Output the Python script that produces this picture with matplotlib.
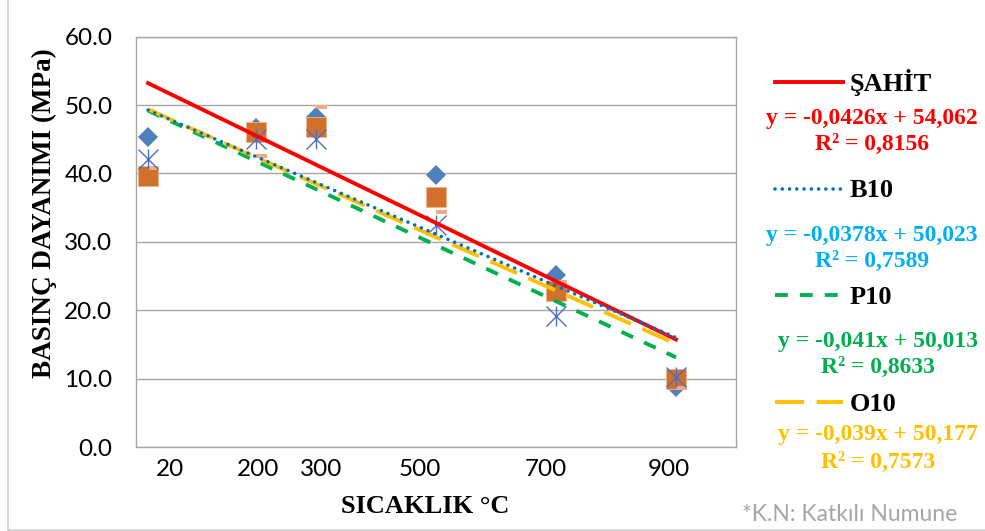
import matplotlib
matplotlib.use("Agg")
import matplotlib.pyplot as plt
import numpy as np
from matplotlib.lines import Line2D

temps = [20, 200, 300, 500, 700, 900]
sahit = [45.3, 46.6, 48.3, 39.8, 25.1, 8.8]
b10 = [39.7, 46.0, 46.8, 36.6, 22.8, 10.0]
p10 = [42.1, 45.0, 45.0, 32.5, 19.1, 10.2]
o10 = [40.8, 42.6, 49.7, 34.3, 24.2, 8.6]

# linear trend lines (as printed on the chart)
series_names = ["ŞAHİT", "B10", "P10", "O10"]
slopes = [-0.0426, -0.0378, -0.041, -0.039]
intercepts = [54.062, 50.023, 50.013, 50.177]
r_squared = [0.8156, 0.7589, 0.8633, 0.7573]

xtick_labels = ["20", "200", "300", "500", "700", "900"]
yticks = [0, 10, 20, 30, 40, 50, 60]

W, H = 985, 531
SERIF = "Liberation Serif"
SANS = "Lato"


def fpos(x, y):
    # pixel position -> figure fraction
    return x / W, 1 - y / H


fig = plt.figure(figsize=(W / 100, H / 100), dpi=100)
ax = fig.add_axes([136 / W, 1 - 447 / H, 600 / W, 410.3 / H])

# markers
ax.plot(temps, sahit, ls="none", marker="D", ms=10.5, color="#4F81BD",
        mew=0, zorder=3)
ax.plot(temps, b10, ls="none", marker="s", ms=14.5, color="#D2712C",
        mec="#F2B48A", mew=0.6, zorder=4)
dash_marker = np.array([(0, -0.22), (1, -0.22), (1, 0.22), (0, 0.22), (0, -0.22)])
ax.plot(temps, o10, ls="none", marker=dash_marker, ms=15.4, color="#F4A88A",
        mew=0, zorder=5)
ax.plot(temps, p10, ls="none", marker="x", ms=14, color="#4A6EC0",
        mew=1.0, zorder=6)
ax.plot(temps, p10, ls="none", marker="|", ms=14, color="#4A6EC0",
        mew=1.0, zorder=6)

# trend lines
trend_styles = [
    dict(color="#FF0000", lw=2.8, ls="-", zorder=9),
    dict(color="#0070C0", lw=2.6, ls=(0, (0.01, 2.0)), dash_capstyle="round", zorder=10),
    dict(color="#00B050", lw=2.8, ls=(0, (3.3, 3.1)), zorder=7),
    dict(color="#FFC000", lw=2.8, ls=(0, (7.5, 3.2)), zorder=8),
]
x_fit = np.array([min(temps), max(temps)])
for s, b, st in zip(slopes, intercepts, trend_styles):
    ax.plot(x_fit, s * x_fit + b, **st)

ax.set_xlim(0, 1000)
ax.set_ylim(0, 60)
ax.set_yticks(yticks)
ax.set_yticklabels([f"{v:.1f}" for v in yticks], fontfamily=SANS, fontsize=17.5)
# the category labels sit where the original text boxes were
ax.set_xticks([56, 204, 309, 473, 683, 888])
ax.set_xticklabels(xtick_labels, fontfamily=SANS, fontsize=17.5)
ax.tick_params(axis="both", length=0)
ax.tick_params(axis="y", pad=17)
ax.tick_params(axis="x", pad=9)
ax.grid(axis="y", color="#A6A6A6", lw=1.0)
ax.set_axisbelow(True)
for sp in ax.spines.values():
    sp.set_color("#A6A6A6")
    sp.set_linewidth(1.0)

ax.set_ylabel("BASINÇ DAYANIMI (MPa)", fontfamily=SERIF, fontweight="bold",
              fontsize=19.5, va="center")
ax.yaxis.set_label_coords(-0.153, 0.570)
ax.set_xlabel("SICAKLIK °C", fontfamily=SERIF, fontweight="bold",
              fontsize=19, va="center")
ax.xaxis.set_label_coords(0.482, -0.146)

# custom legend with the trend equations
eq_colors = ["#FF0000", "#00B0F0", "#00B050", "#FFC000"]
line_y = [82, 189, 295, 402]
name_base = [91, 197, 304, 411]
eq_base = [124, 241, 347, 440]
r2_base = [150, 267, 373, 468]
eq_x = [872, 872, 878, 878]
for i in range(4):
    st = dict(trend_styles[i])
    st.pop("zorder")
    x0, y0 = fpos(775, line_y[i])
    x1, _ = fpos(843, line_y[i])
    fig.add_artist(Line2D([x0, x1], [y0, y0], **st))
    fig.text(*fpos(850, name_base[i]), series_names[i], fontfamily=SERIF,
             fontweight="bold", fontsize=19, ha="left", va="baseline")
    eq = f"y = {slopes[i]}x + {intercepts[i]}".replace(".", ",")
    fig.text(*fpos(eq_x[i], eq_base[i]), eq, fontfamily=SERIF, fontweight="bold",
             fontsize=17, color=eq_colors[i], ha="center", va="baseline")
    r2 = f"R² = {r_squared[i]}".replace(".", ",")
    fig.text(*fpos(eq_x[i], r2_base[i]), r2, fontfamily=SERIF, fontweight="bold",
             fontsize=17, color=eq_colors[i], ha="center", va="baseline")

fig.text(*fpos(742, 521), "*K.N: Katkılı Numune", fontfamily=SANS, fontsize=16.5,
         color="#A6A6A6", ha="left", va="baseline")

# chart area border (only left and bottom edges fall inside the image)
fig.add_artist(Line2D([8 / W, 8 / W], [1.5 / H, 1.0], color="#D0D0D0", lw=1.2))
fig.add_artist(Line2D([8 / W, 1.0], [1.5 / H, 1.5 / H], color="#D0D0D0", lw=1.2))

fig.savefig("out.png", dpi=100)
